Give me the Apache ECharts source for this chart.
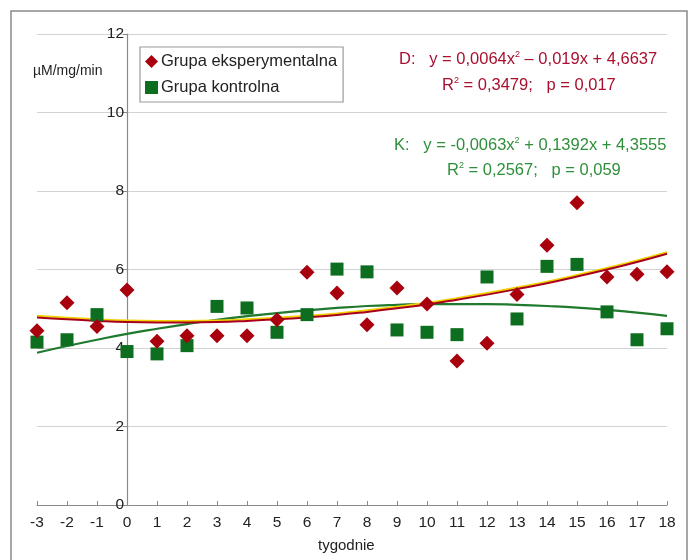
<!DOCTYPE html>
<html>
<head>
<meta charset="utf-8">
<script src="https://cdn.jsdelivr.net/npm/echarts@6/dist/echarts.min.js"></script>
<style>
html,body{margin:0;padding:0;background:#fff;}
#chart{width:689px;height:560px;}
</style>
</head>
<body>
<div id="chart"></div>
<script>
var weeks = [-3,-2,-1,0,1,2,3,4,5,6,7,8,9,10,11,12,13,14,15,16,17,18];
var expValues = [4.44,5.15,4.55,5.48,4.17,4.31,4.31,4.31,4.72,5.93,5.40,4.59,5.53,5.12,3.67,4.12,5.36,6.62,7.70,5.81,5.88,5.94];
var ctrlValues = [4.15,4.21,4.85,3.91,3.85,4.06,5.06,5.02,4.40,4.85,6.01,5.94,4.46,4.40,4.34,5.81,4.74,6.08,6.13,4.92,4.21,4.49];
var expTrend = [4.78,4.73,4.69,4.66,4.65,4.65,4.66,4.69,4.73,4.78,4.84,4.92,5.01,5.11,5.23,5.36,5.50,5.65,5.82,6.00,6.19,6.40];
var ctrlTrend = [3.88,4.05,4.21,4.36,4.49,4.61,4.72,4.81,4.89,4.96,5.02,5.07,5.10,5.12,5.12,5.12,5.10,5.07,5.03,4.97,4.90,4.82];
var yTicks = [0,2,4,6,8,10,12];

function pairs(xs, ys){ return xs.map(function(x,i){ return [x, ys[i]]; }); }

var FONT = 'Liberation Sans, Arial, sans-serif';
var chart = echarts.init(document.getElementById('chart'));
var option = {
  backgroundColor: '#fff',
  animation: false,
  grid: {left: 37, right: 22, top: 34, bottom: 55},
  xAxis: {
    type: 'value', min: -3, max: 18, interval: 1,
    axisLine: {onZero: false, lineStyle: {color: '#8a8a8a', width: 1.2}},
    axisTick: {inside: true, length: 4, lineStyle: {color: '#8a8a8a'}},
    axisLabel: {color: '#222', fontFamily: FONT, fontSize: 15.5, margin: 10},
    splitLine: {show: false}
  },
  yAxis: {
    type: 'value', min: yTicks[0], max: yTicks[yTicks.length-1], interval: 2,
    offset: -90,
    axisLine: {show: true, onZero: false, lineStyle: {color: '#8a8a8a', width: 1.2}},
    axisTick: {show: true, length: 4, lineStyle: {color: '#8a8a8a'}},
    axisLabel: {color: '#222', fontFamily: FONT, fontSize: 15.5, margin: 3},
    splitLine: {show: true, lineStyle: {color: '#d2d2d2', width: 1.2}}
  },
  legend: {
    orient: 'vertical', left: 140, top: 47,
    data: ['Grupa eksperymentalna', 'Grupa kontrolna'],
    itemWidth: 13, itemHeight: 13, itemGap: 9,
    padding: [6, 6, 6, 5],
    borderColor: '#9a9a9a', borderWidth: 1.2,
    textStyle: {color: '#222', fontFamily: FONT, fontSize: 16.5, padding: [0,0,0,-2]}
  },
  series: [
    {
      name: 'trendK', type: 'line', data: pairs(weeks, ctrlTrend), smooth: true,
      showSymbol: false, symbol: 'none', silent: true,
      lineStyle: {color: '#1f7a2e', width: 2.2}, z: 2
    },
    {
      name: 'trendD', type: 'line', data: pairs(weeks, expTrend), smooth: true,
      showSymbol: false, symbol: 'none', silent: true,
      lineStyle: {color: '#a8001c', width: 2, shadowColor: '#f2d200', shadowBlur: 0, shadowOffsetY: -1.6}, z: 3
    },
    {
      name: 'Grupa kontrolna', type: 'scatter', data: pairs(weeks, ctrlValues),
      symbol: 'rect', symbolSize: 13,
      itemStyle: {color: '#0e6e20', opacity: 1}, z: 4
    },
    {
      name: 'Grupa eksperymentalna', type: 'scatter', data: pairs(weeks, expValues),
      symbol: 'diamond', symbolSize: 15,
      itemStyle: {color: '#a8000c', opacity: 1}, z: 5
    }
  ],
  graphic: [
    {type: 'polyline', shape: {points: [[11,560],[11,11],[687,11],[687,560]]}, style: {stroke: '#8a8a8a', lineWidth: 1.5, fill: null}, silent: true},
    {type: 'text', left: 33, top: 64, style: {text: 'µM/mg/min', font: '14px ' + FONT, fill: '#222'}},
    {type: 'text', left: 318, top: 538, style: {text: 'tygodnie', font: '15px ' + FONT, fill: '#222'}},
    {type: 'text', left: 399, top: 50, style: {
      text: '{a|D:   y = 0,0064x}{s|2}{a| – 0,019x + 4,6637}',
      rich: {a: {font: '16.5px ' + FONT, fill: '#a8102e', color: '#a8102e'}, s: {font: '9px ' + FONT, fill: '#a8102e', color: '#a8102e', verticalAlign: 'top', padding: [0,0,9,0]}}
    }},
    {type: 'text', left: 442, top: 76, style: {
      text: '{a|R}{s|2}{a| = 0,3479;   p = 0,017}',
      rich: {a: {font: '16.5px ' + FONT, fill: '#a8102e', color: '#a8102e'}, s: {font: '9px ' + FONT, fill: '#a8102e', color: '#a8102e', verticalAlign: 'top', padding: [0,0,9,0]}}
    }},
    {type: 'text', left: 394, top: 136, style: {
      text: '{a|K:   y = -0,0063x}{s|2}{a| + 0,1392x + 4,3555}',
      rich: {a: {font: '16.5px ' + FONT, fill: '#2f8f3a', color: '#2f8f3a'}, s: {font: '9px ' + FONT, fill: '#2f8f3a', color: '#2f8f3a', verticalAlign: 'top', padding: [0,0,9,0]}}
    }},
    {type: 'text', left: 447, top: 161, style: {
      text: '{a|R}{s|2}{a| = 0,2567;   p = 0,059}',
      rich: {a: {font: '16.5px ' + FONT, fill: '#2f8f3a', color: '#2f8f3a'}, s: {font: '9px ' + FONT, fill: '#2f8f3a', color: '#2f8f3a', verticalAlign: 'top', padding: [0,0,9,0]}}
    }}
  ]
};
chart.setOption(option);
</script>
</body>
</html>
